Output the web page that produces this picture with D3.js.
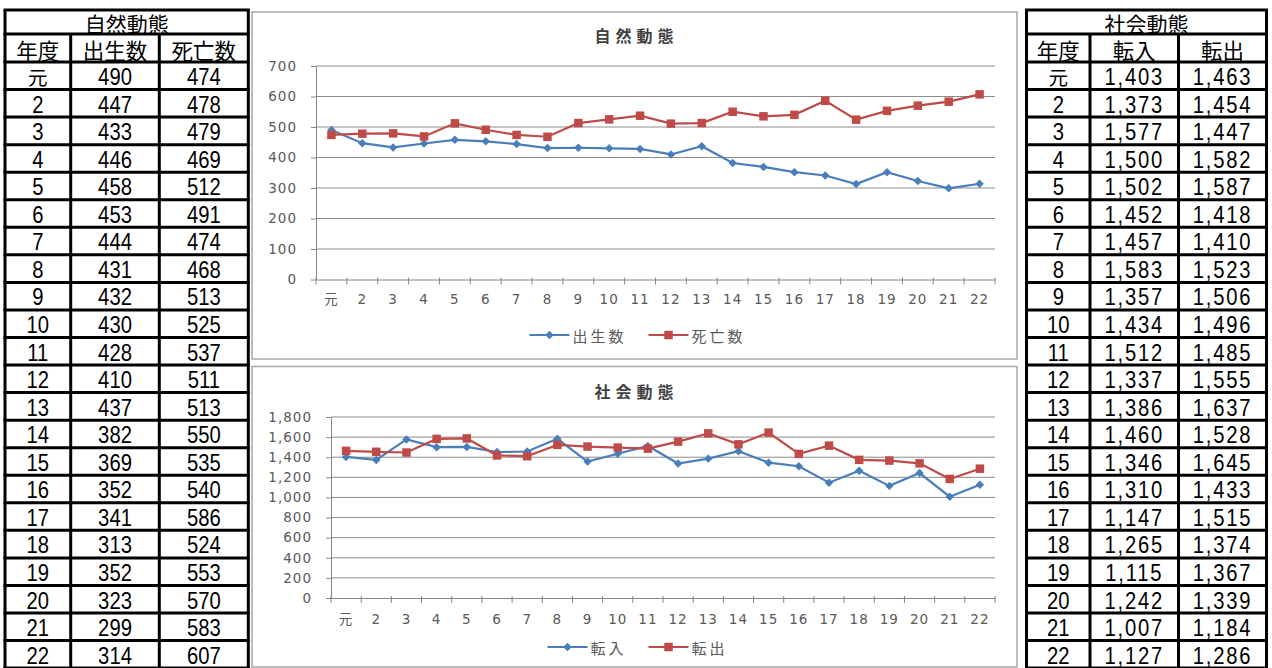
<!DOCTYPE html>
<html><head><meta charset="utf-8">
<script src="https://cdn.jsdelivr.net/npm/d3@7"></script>
<style>
html,body{margin:0;padding:0;background:#fff;}
svg{display:block;}
</style></head>
<body>
<svg id="chart" width="1272" height="668"></svg>
<script>
// ---------- data ----------
const years = ["元","2","3","4","5","6","7","8","9","10","11","12","13","14","15","16","17","18","19","20","21","22"];
const births = [490,447,433,446,458,453,444,431,432,430,428,410,437,382,369,352,341,313,352,323,299,314];
const deaths = [474,478,479,469,512,491,474,468,513,525,537,511,513,550,535,540,586,524,553,570,583,607];
const movedIn = [1403,1373,1577,1500,1502,1452,1457,1583,1357,1434,1512,1337,1386,1460,1346,1310,1147,1265,1115,1242,1007,1127];
const movedOut = [1463,1454,1447,1582,1587,1418,1410,1523,1506,1496,1485,1555,1637,1528,1645,1433,1515,1374,1367,1339,1184,1286];
const naturalTicks = [0,100,200,300,400,500,600,700];
const socialTicks = [0,200,400,600,800,1000,1200,1400,1600,1800];
const naturalTitle = "自然動態";
const socialTitle = "社会動態";
const naturalHeaders = ["年度","出生数","死亡数"];
const socialHeaders = ["年度","転入","転出"];
const naturalSeries = ["出生数","死亡数"];
const socialSeries = ["転入","転出"];

const svg = d3.select("#chart");
const fmt = d3.format(",");
const BLUE = "#4a7ebb", RED = "#be4b48";
const CJK = "'Noto Sans CJK JP', sans-serif";
const NUM = "'Liberation Sans', 'Noto Sans CJK JP', sans-serif";

// ---------- tables ----------
function drawTable(cols, title, headers, colA, colB, numFmt, numSpacing){
  const g = svg.append("g");
  const top = 10, titleB = 34, headB = 62, rh = 27.55;
  const bounds = [top, titleB, headB];
  years.forEach((d,i)=>bounds.push(headB + rh*(i+1)));
  const bottom = bounds[bounds.length-1];
  g.append("text").attr("x",(cols[0]+cols[3])/2).attr("y",(top+titleB)/2+1)
    .attr("text-anchor","middle").attr("dominant-baseline","central")
    .attr("font-family",CJK).attr("font-size",21).attr("fill","#000").text(title);
  headers.forEach((h,i)=>{
    g.append("text").attr("x",(cols[i]+cols[i+1])/2).attr("y",(titleB+headB)/2+1.5)
      .attr("text-anchor","middle").attr("dominant-baseline","central")
      .attr("font-family",CJK).attr("font-size",21.5).attr("fill","#000").text(h);
  });
  years.forEach((yr,i)=>{
    const rt = headB + rh*i, rb = rt + rh;
    const vals = [yr, numFmt(colA[i]), numFmt(colB[i])];
    vals.forEach((v,j)=>{
      const cxm = (cols[j]+cols[j+1])/2;
      const t = g.append("text").attr("text-anchor","middle").attr("fill","#000").text(v);
      if (v === "元") {
        t.attr("x",cxm).attr("y",(rt+rb)/2+1).attr("dominant-baseline","central").attr("font-family",CJK).attr("font-size",19.5);
      } else {
        t.attr("transform",`translate(${cxm},${rb-4.5}) scale(0.88,1)`)
         .attr("font-family",NUM).attr("font-size",23)
         .attr("letter-spacing", j===0 ? 0 : numSpacing);
      }
    });
  });
  g.selectAll("line.h").data(bounds).join("line").attr("class","h")
    .attr("x1",cols[0]-1.5).attr("x2",cols[3]+1.5).attr("y1",d=>d).attr("y2",d=>d)
    .attr("stroke","#000").attr("stroke-width",3);
  [cols[0],cols[3]].forEach(x=>g.append("line").attr("x1",x).attr("x2",x).attr("y1",top).attr("y2",bottom).attr("stroke","#000").attr("stroke-width",3));
  [cols[1],cols[2]].forEach(x=>g.append("line").attr("x1",x).attr("x2",x).attr("y1",titleB).attr("y2",bottom).attr("stroke","#000").attr("stroke-width",3));
}
drawTable([5,70.7,159.3,248.3], naturalTitle, naturalHeaders, births, deaths, d=>String(d), 0);
drawTable([1026.5,1090,1178.5,1266.5], socialTitle, socialHeaders, movedIn, movedOut, fmt, 2);

// ---------- charts ----------
function drawChart(cfg){
  const g = svg.append("g");
  g.append("rect").attr("x",cfg.frame[0]).attr("y",cfg.frame[1])
    .attr("width",cfg.frame[2]-cfg.frame[0]).attr("height",cfg.frame[3]-cfg.frame[1])
    .attr("fill","#fff").attr("stroke","#a6a6a6").attr("stroke-width",1.5);
  const cx = (cfg.frame[0]+cfg.frame[2])/2;
  g.append("text").attr("x",cx+2).attr("y",cfg.titleY).attr("text-anchor","middle")
    .attr("dominant-baseline","central")
    .attr("font-family",CJK).attr("font-weight","bold")
    .attr("font-size",16).attr("letter-spacing",5).attr("fill","#404040").text(cfg.title);

  const x = d3.scaleBand().domain(years).range([cfg.x0,cfg.x1]);
  const y = d3.scaleLinear().domain([0, d3.max(cfg.ticks)]).range([cfg.yB, cfg.yT]);
  const bw = x.bandwidth();
  const px = d => x(d) + bw/2;

  g.selectAll("line.grid").data(cfg.ticks.filter(t=>t>0)).join("line").attr("class","grid")
    .attr("x1",cfg.x0).attr("x2",cfg.x1).attr("y1",d=>y(d)).attr("y2",d=>y(d))
    .attr("stroke","#8c8c8c").attr("stroke-width",1);

  const ya = g.append("g").attr("transform",`translate(${cfg.x0},0)`)
    .call(d3.axisLeft(y).tickValues(cfg.ticks).tickSize(5).tickSizeOuter(0).tickPadding(cfg.yPad).tickFormat(fmt));
  ya.select(".domain").attr("stroke","#868686");
  ya.selectAll(".tick line").attr("stroke","#868686");
  ya.selectAll("text").attr("font-family","'DejaVu Sans', sans-serif").attr("font-size",13.5)
    .attr("letter-spacing",1).attr("fill","#595959");

  const xa = g.append("g").attr("transform",`translate(0,${cfg.yB})`)
    .call(d3.axisBottom(x).tickSize(0).tickPadding(cfg.labPad));
  xa.select(".domain").attr("stroke","#868686");
  xa.selectAll("text").attr("font-family","'DejaVu Sans', 'Noto Sans CJK JP', sans-serif").attr("font-size",13.5)
    .attr("letter-spacing",1).attr("fill","#595959");
  const bnds = years.map(d=>x(d)).concat([cfg.x1]);
  g.selectAll("line.xt").data(bnds).join("line").attr("class","xt")
    .attr("x1",d=>d).attr("x2",d=>d).attr("y1",cfg.yB-2).attr("y2",cfg.yB+5)
    .attr("stroke","#868686");

  const series = [
    {name:cfg.names[0], vals:cfg.a, color:BLUE, sym:d3.symbolSquare, size:36, rot:45},
    {name:cfg.names[1], vals:cfg.b, color:RED, sym:d3.symbolSquare, size:72, rot:0}
  ];
  series.forEach(s=>{
    const line = d3.line().x((v,i)=>px(years[i])).y(v=>y(v));
    g.append("path").attr("d",line(s.vals)).attr("fill","none").attr("stroke",s.color).attr("stroke-width",2.2);
    g.selectAll(null).data(s.vals).join("path")
      .attr("transform",(v,i)=>`translate(${px(years[i])},${y(v)}) rotate(${s.rot})`)
      .attr("d",d3.symbol().type(s.sym).size(s.size)).attr("fill",s.color);
  });

  const lg = g.append("g");
  let cur = 0;
  series.forEach((s,i)=>{
    const it = lg.append("g").attr("transform",`translate(${cur},0)`);
    it.append("line").attr("x1",0).attr("x2",40).attr("y1",0).attr("y2",0).attr("stroke",s.color).attr("stroke-width",2.2);
    it.append("path").attr("transform",`translate(20,0) rotate(${s.rot})`).attr("d",d3.symbol().type(s.sym).size(s.size)).attr("fill",s.color);
    const t = it.append("text").attr("x",43).attr("y",0).attr("dominant-baseline","central")
      .attr("font-family",CJK).attr("font-size",15).attr("letter-spacing",3)
      .attr("fill","#595959").text(s.name);
    cur += 43 + t.node().getComputedTextLength() + 22;
  });
  const lw = cur - 22;
  lg.attr("transform",`translate(${cx+3 - lw/2},${cfg.legY})`);
}

drawChart({frame:[252,12,1017,359], title:naturalTitle, titleY:35,
  x0:316, x1:995, yB:279.5, yT:66, ticks:naturalTicks, labPad:15, yPad:14,
  a:births, b:deaths, names:naturalSeries, legY:335});
drawChart({frame:[252,366.5,1017,667], title:socialTitle, titleY:391,
  x0:331, x1:995, yB:598, yT:417, ticks:socialTicks, labPad:16, yPad:14,
  a:movedIn, b:movedOut, names:socialSeries, legY:647});
</script>
</body></html>
